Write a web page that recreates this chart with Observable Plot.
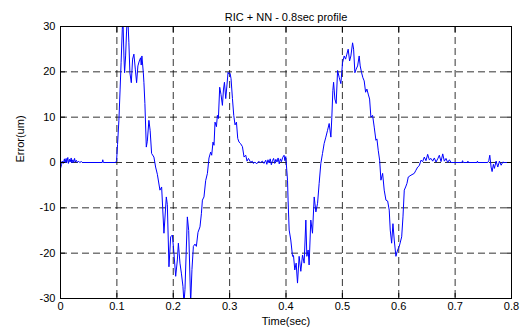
<!DOCTYPE html>
<html>
<head>
<meta charset="utf-8">
<script src="https://cdn.jsdelivr.net/npm/d3@7"></script>
<script src="https://cdn.jsdelivr.net/npm/@observablehq/plot@0.6"></script>
<style>
  html, body { margin: 0; padding: 0; background: #fff; }
  svg { display: block; }
</style>
</head>
<body>
<div id="chart"></div>
<script>
const titleText = "RIC + NN - 0.8sec profile";
const xLabel = "Time(sec)";
const yLabel = "Error(um)";
const xTicks = [0, 0.1, 0.2, 0.3, 0.4, 0.5, 0.6, 0.7, 0.8];
const xTickLabels = ["0", "0.1", "0.2", "0.3", "0.4", "0.5", "0.6", "0.7", "0.8"];
const yTicks = [-30, -20, -10, 0, 10, 20, 30];
const yTickLabels = ["-30", "-20", "-10", "0", "10", "20", "30"];

const time = [
  0.000, 0.002, 0.003, 0.005, 0.007, 0.008, 0.010, 0.011, 0.013, 0.014,
  0.016, 0.017, 0.019, 0.020, 0.022, 0.023, 0.025, 0.026, 0.028, 0.030,
  0.032, 0.034, 0.037, 0.039, 0.074, 0.075, 0.076, 0.098, 0.0995,
  0.1012, 0.1036, 0.1057, 0.1075, 0.1096, 0.1107, 0.1125, 0.1137, 0.1155, 0.1172,
  0.1190, 0.1213, 0.1231, 0.1256, 0.1279, 0.1302, 0.1327, 0.1350, 0.1373, 0.1398,
  0.1421, 0.1432, 0.1444, 0.1469, 0.1480, 0.1497, 0.1522, 0.1540, 0.1568, 0.1590,
  0.1616, 0.1657, 0.1687, 0.1718, 0.1764, 0.1794, 0.1835, 0.1877, 0.1895, 0.1924,
  0.1954, 0.1984, 0.2012, 0.2043, 0.2073, 0.2091, 0.2119, 0.2144, 0.2172, 0.2190,
  0.2208, 0.2250, 0.2274, 0.2309, 0.2332, 0.2357, 0.2385, 0.2410, 0.2439, 0.2474,
  0.2499, 0.2517, 0.2545, 0.2575, 0.2606, 0.2634, 0.2664, 0.2682, 0.2705, 0.2723,
  0.2741, 0.2766, 0.2783, 0.2801, 0.2824, 0.2847, 0.2872, 0.2890, 0.2908, 0.2931,
  0.2954, 0.2972, 0.2989, 0.3007, 0.3025, 0.3050, 0.3073, 0.3096, 0.3121, 0.3144,
  0.3167, 0.3192, 0.3227, 0.3256, 0.3286, 0.3309, 0.3334, 0.3375,
  0.340, 0.342, 0.345, 0.348, 0.351, 0.355, 0.358, 0.361, 0.364, 0.366,
  0.368, 0.370, 0.372, 0.374, 0.376, 0.378, 0.380, 0.382, 0.384, 0.386,
  0.388, 0.390, 0.392, 0.394, 0.3966, 0.398, 0.3996,
  0.4014, 0.4027, 0.4037, 0.4056, 0.4085, 0.4116, 0.4133, 0.4156, 0.4180, 0.4204,
  0.4233, 0.4263, 0.4293, 0.4322, 0.4352, 0.4370, 0.4393, 0.4410, 0.4440, 0.4470,
  0.4500, 0.4530, 0.4560, 0.4588, 0.4618, 0.4648, 0.4677, 0.4707, 0.4737, 0.4766,
  0.4796, 0.4813, 0.4831, 0.4844, 0.4867, 0.4890, 0.4915, 0.4943, 0.4973, 0.5003,
  0.5032, 0.5057, 0.5080, 0.5103, 0.5128, 0.5151, 0.5181, 0.5199, 0.5222, 0.5245,
  0.5270, 0.5298, 0.5316, 0.5341, 0.5364, 0.5387, 0.5412, 0.5435, 0.5458, 0.5483,
  0.5506, 0.5536, 0.5565, 0.5595, 0.5613, 0.5636, 0.5661, 0.5684, 0.5714, 0.5742,
  0.5773, 0.5803, 0.5831, 0.5849, 0.5874, 0.5897, 0.5920, 0.5950, 0.5980, 0.6009,
  0.6052, 0.6075, 0.6098, 0.6122, 0.6146, 0.6169, 0.6217, 0.6275, 0.6305, 0.6336,
  0.6364, 0.6394, 0.6424, 0.6453, 0.6483, 0.6513, 0.6542, 0.6572, 0.6602, 0.6631,
  0.6661, 0.6691, 0.6720, 0.6750, 0.6780, 0.6809, 0.6838, 0.6868, 0.6898, 0.6927,
  0.7120, 0.7132, 0.7144, 0.7220, 0.7226, 0.7236, 0.7390, 0.7396, 0.7404,
  0.7579, 0.7597, 0.7615, 0.7638, 0.7656, 0.7679, 0.7697, 0.7727, 0.7757, 0.7786,
  0.7816, 0.7846, 0.7870, 0.8000
];

const error = [
  -1.3, -0.4, 0.3, -0.2, 0.8, -0.1, 0.9, 0.0, 1.1, -0.2,
  0.7, 0.1, 1.0, -0.1, 0.6, 0.0, 0.9, 0.1, 0.5, 0.0,
  0.3, 0.0, 0.2, 0.0, 0.0, 0.6, 0.0, 0.0, 0.4,
  4.0, 9.3, 16.0, 22.0, 29.4, 32.0, 23.5, 19.8, 23.5, 29.0,
  33.0, 26.4, 19.8, 17.6, 22.8, 23.9, 20.6, 17.6, 21.3, 22.4,
  23.1, 21.5, 23.5, 19.8, 17.6, 13.0, 3.4, 4.7, 9.3, 7.1,
  2.0, 1.2, -1.0, -2.6, -6.1, -5.4, -15.6, -7.6, -9.3, -23.0,
  -16.4, -16.0, -20.0, -25.1, -21.5, -17.8, -22.2, -24.4, -27.3, -31.0,
  -28.0, -12.0, -15.0, -31.0, -23.6, -18.5, -18.0, -18.5, -15.4, -14.2,
  -11.3, -8.3, -7.6, -4.0, -2.4, 1.0, 2.3, 1.6, 4.5, 3.8,
  8.9, 7.9, 10.4, 9.7, 16.6, 15.0, 12.6, 16.0, 17.7, 14.1,
  17.3, 19.9, 19.5, 19.7, 18.5, 14.1, 10.4, 8.3, 8.9, 5.3,
  4.5, 4.2, 3.5, 1.2, 1.6, 0.3, 0.9, 0.0,
  0.3, -0.2, 0.1, -0.3, 0.2, 0.0, 0.3, -0.2, 0.5, -0.4,
  0.6, -0.1, 0.8, -0.5, 0.4, 0.9, -0.2, 0.7, 0.1, 1.0,
  -0.3, 0.8, 0.2, 1.1, 1.6, 0.4, 1.3,
  -1.7, -3.9, -8.3, -14.9, -17.1, -20.7, -20.5, -23.7, -22.2, -26.6,
  -20.7, -24.0, -20.4, -22.2, -12.7, -20.7, -19.3, -22.6, -12.7, -15.6,
  -7.6, -10.9, -9.0, -4.6, -0.2, 2.0, 4.2, 5.6, 7.1, 8.6,
  5.6, 10.0, 15.9, 17.7, 14.0, 13.0, 20.3, 18.8, 17.4, 22.0,
  23.5, 22.8, 23.9, 25.0, 22.4, 23.5, 26.4, 25.0, 19.8, 20.6,
  21.3, 23.5, 21.3, 19.8, 18.7, 18.0, 15.5, 16.2, 15.1, 14.0,
  10.0, 10.4, 7.8, 4.9, 5.2, 2.7, 0.5, -3.9, -2.4, -6.1,
  -8.3, -8.5, -10.5, -14.9, -17.8, -13.5, -17.1, -20.7, -19.3, -18.5,
  -16.4, -12.0, -6.1, -5.4, -4.6, -3.2, -2.8, -2.4, -1.7, -1.0,
  -0.7, 0.5, 0.2, 1.2, 0.4, 1.8, 0.6, 0.9, 0.3, 1.0,
  0.1, 0.8, 1.6, 0.2, 1.9, 0.3, 0.9, 0.0, 0.6, 0.0,
  0.0, 0.4, 0.0, 0.0, 0.3, 0.0, 0.0, 0.3, 0.0,
  0.0, 0.4, 1.6, -1.0, -2.0, -0.4, -1.3, 0.3, -1.0, 0.3,
  -0.6, 0.1, 0.0, 0.0
];

const data = time.map((t, i) => ({t, v: error[i]}));

const chart = Plot.plot({
  width: 528,
  height: 332,
  marginLeft: 60,
  marginRight: 17,
  marginTop: 26,
  marginBottom: 34,
  style: {fontFamily: "'Liberation Sans', Arial, Helvetica, sans-serif", fontSize: "11px", background: "white", color: "black"},
  x: {domain: [0, 0.8]},
  y: {domain: [-30, 30]},
  marks: [
    Plot.ruleX(xTicks.slice(1, -1), {x: d => d, stroke: "black", strokeOpacity: 0.8, strokeDasharray: "7,4"}),
    Plot.ruleY(yTicks.slice(1, -1), {y: d => d, stroke: "black", strokeOpacity: 0.8, strokeDasharray: "7,4"}),
    Plot.line(data, {x: "t", y: "v", stroke: "#0000ff", strokeWidth: 1, clip: true}),
    Plot.frame({stroke: "black", strokeWidth: 1}),
    Plot.axisX(xTicks, {anchor: "bottom", tickSize: 5, dy: -5, text: null, label: null}),
    Plot.axisX(xTicks, {anchor: "top", tickSize: 5, dy: 5, text: null, label: null}),
    Plot.axisY(yTicks, {anchor: "left", tickSize: 5, dx: 5, text: null, label: null}),
    Plot.axisY(yTicks, {anchor: "right", tickSize: 5, dx: -5, text: null, label: null}),
    Plot.axisX(xTicks, {anchor: "bottom", tickSize: 0, tickPadding: 4, tickFormat: (d, i) => xTickLabels[i], label: null}),
    Plot.axisY(yTicks, {anchor: "left", tickSize: 0, tickPadding: 5, tickFormat: (d, i) => yTickLabels[i], label: null}),
    Plot.text([titleText], {frameAnchor: "top", dy: -13, text: d => d}),
    Plot.text([xLabel], {frameAnchor: "bottom", dy: 26, text: d => d}),
    Plot.text([yLabel], {frameAnchor: "left", dx: -40, rotate: -90, text: d => d})
  ]
});
document.getElementById("chart").appendChild(chart);
</script>
</body>
</html>
